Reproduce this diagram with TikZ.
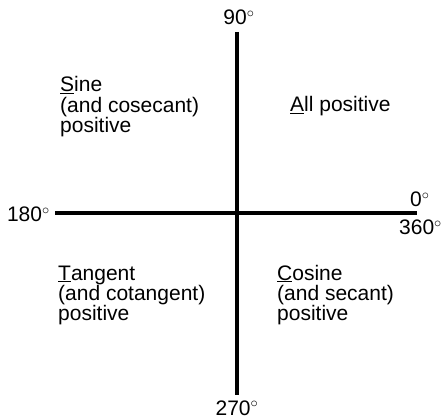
\documentclass[tikz,border=0pt]{standalone}
\usepackage{fontspec}
\setmainfont{Liberation Sans}
\usetikzlibrary{positioning}
\newcommand{\dg}{$^{\circ}$}
\tikzset{
    axis/.style={line width=4pt},
    deg/.style={inner sep=0pt, font=\fontsize{21}{21}\selectfont},
    quad/.style={inner sep=0pt, align=left, anchor=base west, font=\fontsize{21}{20.5}\selectfont},
}

\begin{document}
\begin{tikzpicture}[x=1pt,y=1pt]
    \useasboundingbox (0,0) rectangle (442,418);
    \coordinate (o) at (237,205);
    \coordinate [above=181pt of o] (n);
    \coordinate [below=182pt of o] (s);
    \coordinate [left=182pt of o] (w);
    \coordinate [right=180pt of o] (e);
    \draw[axis] (n) -- (s);
    \draw[axis] (w) -- (e);
    % angle labels
    \node[deg, anchor=base] (l90) at ([xshift=2pt,yshift=7pt]n) {90\dg};
    \node[deg, anchor=base] (l270) at ([yshift=-20pt]s) {270\dg};
    \node[deg, anchor=base east] (l180) at ([xshift=-5pt,yshift=-9pt]w) {180\dg};
    \node[deg, anchor=base west] (l0) at ([xshift=-7pt,yshift=6pt]e) {0\dg};
    \node[deg, anchor=base west] (l360) at ([xshift=-18pt,yshift=-22pt]e) {360\dg};
    % quadrants
    \node[quad] (sine) at ([shift={(-177pt,80pt)}]o) {\underline{S}ine\\(and cosecant)\\positive};
    \node[quad] (all) at ([shift={(53pt,101pt)}]o) {\underline{A}ll positive};
    \node[quad] (tan) at ([shift={(-179pt,-108pt)}]o) {\underline{T}angent\\(and cotangent)\\positive};
    \node[quad] (cos) at ([shift={(40pt,-108pt)}]o) {\underline{C}osine\\(and secant)\\positive};
\end{tikzpicture}
\end{document}
